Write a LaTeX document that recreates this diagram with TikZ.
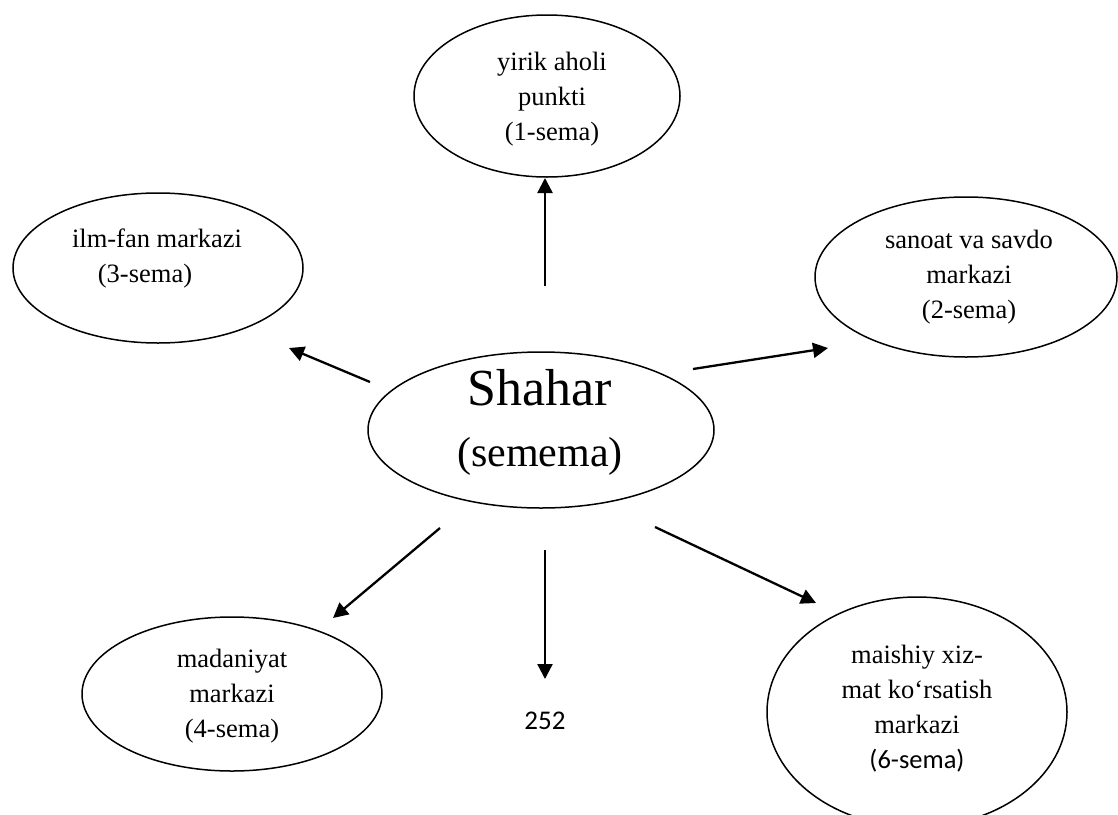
\documentclass[tikz,border=0pt]{standalone}
\usepackage{fontspec}
\setmainfont{Liberation Serif}
\newfontfamily\calibrilike{Carlito}
\usetikzlibrary{shapes.geometric,arrows.meta}

\tikzset{
  oval/.style={ellipse, draw, line width=1.5pt, inner sep=0pt},
  lbl/.style={align=center, inner sep=0pt, anchor=base,
    font=\fontsize{26.5}{35}\selectfont},
  link/.style={line width=2.3pt, -{Triangle[length=15pt,width=15pt]}}
}

\begin{document}
\begin{tikzpicture}[x=1pt,y=-1pt]
\useasboundingbox (0,0) rectangle (1118,814);

% ovals
\node[oval, minimum width=266pt, minimum height=162pt] (top)   at (547,96)  {};
\node[oval, minimum width=290pt, minimum height=150pt] (sci)   at (158,268) {};
\node[oval, minimum width=302pt, minimum height=160pt] (ind)   at (966,277) {};
\node[oval, minimum width=346pt, minimum height=156pt] (city)  at (541,430) {};
\node[oval, minimum width=300pt, minimum height=154pt] (cult)  at (232,694) {};
\node[oval, minimum width=300pt, minimum height=230pt] (serv)  at (917,712) {};

% texts (placed by the baseline of their last line)
\node[lbl] (ttop)  at (552,140) {yirik aholi\\punkti\\(1-sema)};
\node[lbl] (tsci)  at (157,282) {ilm-fan markazi\\\hspace*{-24pt}(3-sema)};
\node[lbl] (tind)  at (969,318) {sanoat va savdo\\markazi\\(2-sema)};
\node[lbl] (tcult) at (232,737) {madaniyat\\markazi\\(4-sema)};
\node[lbl] (tserv) at (917,768) {maishiy xiz-\\mat ko‘rsatish\\markazi\\{\calibrilike (6-sema)}};
\node[inner sep=0pt, anchor=base, font=\fontsize{52}{60}\selectfont] (tcity) at (540,405) {Shahar};
\node[inner sep=0pt, anchor=base, font=\fontsize{42}{50}\selectfont] (tsem)  at (540,466) {(semema)};
\node[inner sep=0pt, anchor=base, font=\calibrilike\fontsize{27}{32}\selectfont] (page) at (545,729) {252};

% arrow ends
\coordinate (sU) at (545,286); \coordinate (eU) at (545,178);
\coordinate (sL) at (370,382); \coordinate (eL) at (289,348);
\coordinate (sR) at (693,369); \coordinate (eR) at (828,348);
\coordinate (sDL) at (440,528); \coordinate (eDL) at (333,618);
\coordinate (sD) at (545,550); \coordinate (eD) at (545,679);
\coordinate (sDR) at (655,527); \coordinate (eDR) at (816,603);

\draw[link] (sU) -- (eU);
\draw[link] (sL) -- (eL);
\draw[link] (sR) -- (eR);
\draw[link] (sDL) -- (eDL);
\draw[link] (sD) -- (eD);
\draw[link] (sDR) -- (eDR);
\end{tikzpicture}
\end{document}
